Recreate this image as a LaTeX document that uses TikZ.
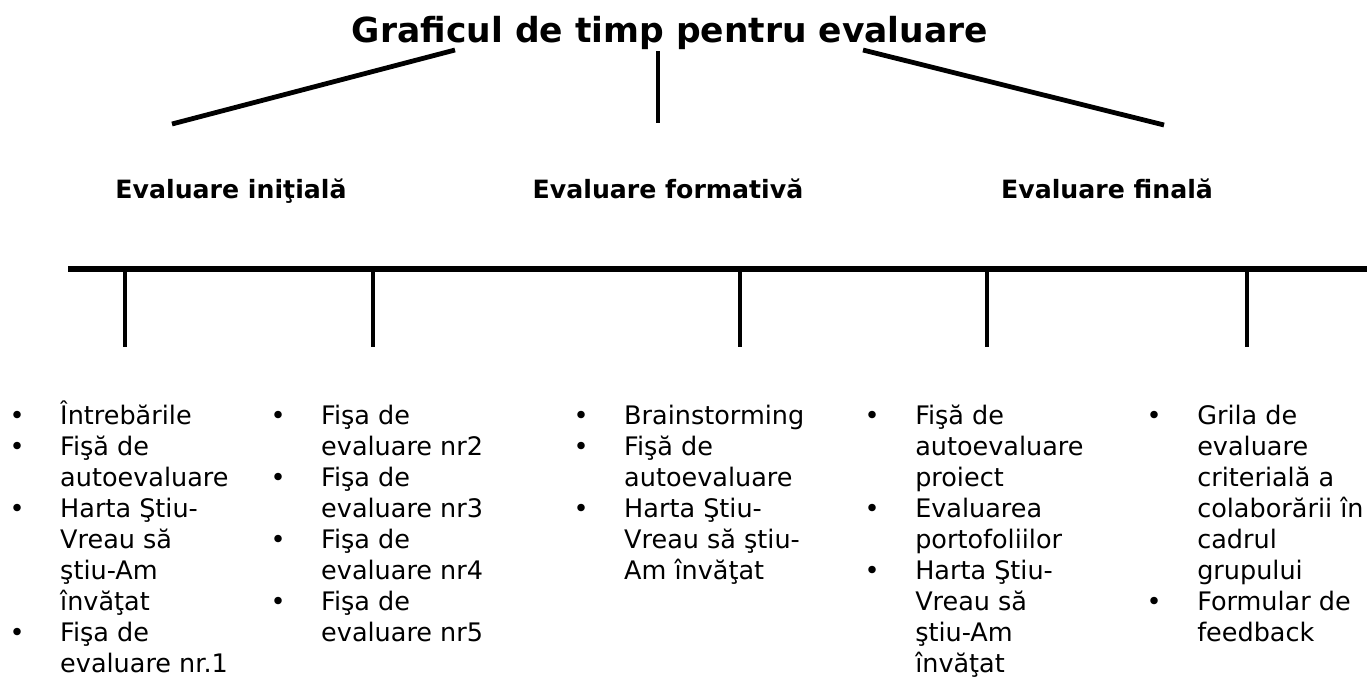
\documentclass[tikz,border=0pt]{standalone}
\usepackage{fontspec}
\setmainfont{DejaVu Sans}
\begin{document}
\begin{tikzpicture}[x=1pt,y=-1pt,
  titlestyle/.style={inner sep=0pt,anchor=base,font=\bfseries\fontsize{34.5}{40}\selectfont},
  headstyle/.style={inner sep=0pt,anchor=base,font=\bfseries\fontsize{25.2}{30}\selectfont},
  colstyle/.style={inner sep=0pt,anchor=base west,font=\fontsize{25.5}{31.1}\selectfont},
  branch/.style={line width=4.8pt},
  axis/.style={line width=6.5pt},
  tick/.style={line width=3.8pt}]
\useasboundingbox (0,0) rectangle (1367,678);
\fill[white] (0,0) rectangle (1367,678);

\node[titlestyle] (title) at (670,42) {Graficul de timp pentru evaluare};

\coordinate (la) at (455,50);  \coordinate (lb) at (172,124);
\coordinate (ma) at (658,51);  \coordinate (mb) at (658,123);
\coordinate (ra) at (863,50);  \coordinate (rb) at (1164,125);
\draw[branch] (la) -- (lb);
\draw[branch] (ma) -- (mb);
\draw[branch] (ra) -- (rb);

\node[headstyle] (h1) at (231,198) {Evaluare iniţială};
\node[headstyle] (h2) at (668,198) {Evaluare formativă};
\node[headstyle] (h3) at (1107,198) {Evaluare finală};

\coordinate (ax0) at (68,269); \coordinate (ax1) at (1372,269);
\draw[axis] (ax0) -- (ax1);
\foreach \i/\x in {1/125,2/373,3/740,4/987,5/1247}{
  \coordinate (k\i a) at (\x,269);
  \coordinate (k\i b) at (\x,347);
  \draw[tick] (k\i a) -- (k\i b);
}

\node[colstyle] (c1) at (9.5,424) {\begin{tabular}[t]{@{}l@{\hspace{35.5pt}}l@{}}
• & Întrebările\\
• & Fişă de\\
  & autoevaluare\\
• & Harta Ştiu-\\
  & Vreau să\\
  & ştiu-Am\\
  & învăţat\\
• & Fişa de\\
  & evaluare nr.1
\end{tabular}};

\node[colstyle] (c2) at (270.5,424) {\begin{tabular}[t]{@{}l@{\hspace{35.5pt}}l@{}}
• & Fişa de\\
  & evaluare nr2\\
• & Fişa de\\
  & evaluare nr3\\
• & Fişa de\\
  & evaluare nr4\\
• & Fişa de\\
  & evaluare nr5
\end{tabular}};

\node[colstyle] (c3) at (573.5,424) {\begin{tabular}[t]{@{}l@{\hspace{35.5pt}}l@{}}
• & Brainstorming\\
• & Fişă de\\
  & autoevaluare\\
• & Harta Ştiu-\\
  & Vreau să ştiu-\\
  & Am învăţat
\end{tabular}};

\node[colstyle] (c4) at (864.5,424) {\begin{tabular}[t]{@{}l@{\hspace{35.5pt}}l@{}}
• & Fişă de\\
  & autoevaluare\\
  & proiect\\
• & Evaluarea\\
  & portofoliilor\\
• & Harta Ştiu-\\
  & Vreau să\\
  & ştiu-Am\\
  & învăţat
\end{tabular}};

\node[colstyle] (c5) at (1146.5,424) {\begin{tabular}[t]{@{}l@{\hspace{35.5pt}}l@{}}
• & Grila de\\
  & evaluare\\
  & criterială a\\
  & colaborării în\\
  & cadrul\\
  & grupului\\
• & Formular de\\
  & feedback
\end{tabular}};
\end{tikzpicture}
\end{document}
